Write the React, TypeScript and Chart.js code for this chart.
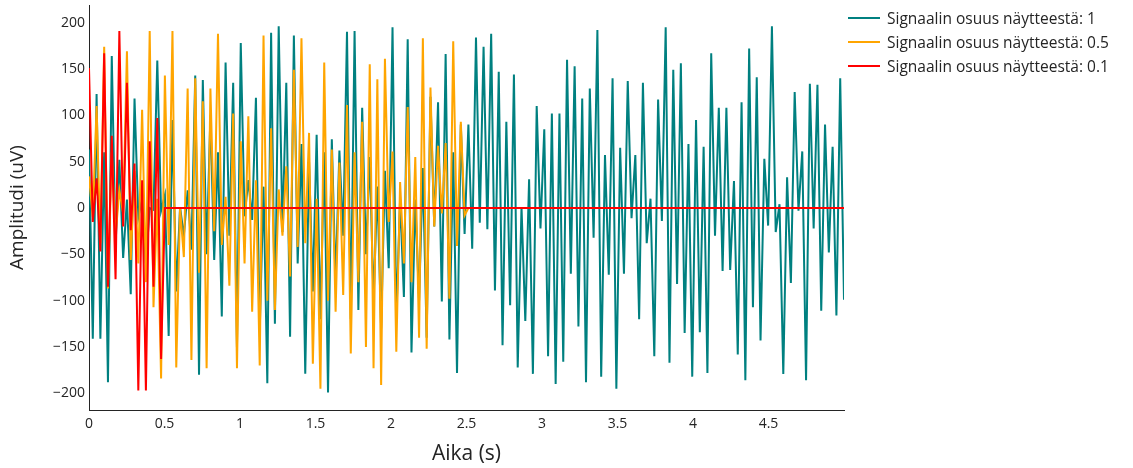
import React, { useEffect, useRef } from "react";
import { Chart, registerables } from "chart.js";

Chart.register(...registerables);

// Sampling grid: 200 samples spanning 0 … 5 s
const SAMPLE_COUNT = 200;
const DURATION_S = 5;

const xTickValues = [0, 0.5, 1, 1.5, 2, 2.5, 3, 3.5, 4, 4.5];
const yTickValues = [-200, -150, -100, -50, 0, 50, 100, 150, 200];

const seriesLabels = [
  "Signaalin osuus näytteestä: 1",
  "Signaalin osuus näytteestä: 0.5",
  "Signaalin osuus näytteestä: 0.1",
];
const seriesColors = ["#008080", "#FFA500", "#FF0000"];

// Signal share 1 (whole sample)
const share1Values = [
  63, -141, 123, -141, 60, -188, 164, -40, 52, -54,
  9, -93, 118, -10, 10, -60, 0, -2, 159, -3,
  14, -138, 95, -90, 1, -30, 19, -45, 143, -180,
  138, -50, 100, -56, 60, -117, 157, -30, 135, -150,
  178, -9, 30, -13, 119, -132, 23, -189, 189, -125,
  196, -26, 135, -139, 186, -60, 69, -179, 50, -90,
  79, -120, 60, -199, 74, -80, 62, -30, 190, -120,
  191, -110, 108, -50, 55, -100, 23, -130, 40, -65,
  195, -120, 10, -96, 182, -156, 9, -100, 43, -140,
  120, -20, 114, -101, 166, -142, 60, -178, 90, -28,
  90, -44, 184, -16, 174, -23, 188, -89, 147, -148,
  93, -105, 144, -172, 1, -122, 31, -179, 110, -22,
  85, -160, 102, -190, 102, -166, 160, -71, 153, -128,
  118, -188, 129, -32, 192, -182, 57, -72, 140, -195,
  65, -71, 137, -11, 57, -120, 135, -38, 10, -160,
  117, -14, 195, -167, 149, -82, 156, -135, 69, -182,
  95, -134, 66, -178, 167, -30, 108, -68, 108, -67,
  29, -158, 114, -186, 172, -107, 141, -143, 53, -19,
  196, -26, 4, -179, 33, -81, 125, -3, 61, -186,
  134, -22, 133, -111, 90, -48, 66, -116, 140, -99,
];

// Signal share 0.5 (first half carries signal, rest is zero)
const share05Values = [
  34, -10, 110, -38, 174, -87, 60, -30, 19, -6,
  169, -56, 40, -60, 106, -80, 191, -107, 10, -184,
  143, -40, 191, -172, 0, -53, 129, -164, 140, -70,
  115, -173, 129, -25, 188, -40, 12, -84, 102, -173,
  72, -60, 99, -112, 30, -170, 186, -100, 86, -110,
  20, -30, 45, -74, 149, -42, 183, -38, 81, -168,
  10, -195, 157, -100, 63, -112, 49, -94, 111, -157,
  60, -80, 93, -150, 155, -173, 139, -191, 161, -15,
  61, -155, 28, -60, 109, -80, 55, -140, 183, -152,
  130, -20, 67, -6, 70, -98, 180, -41, 93, -8,
  0, 0, 0, 0, 0, 0, 0, 0, 0, 0,
  0, 0, 0, 0, 0, 0, 0, 0, 0, 0,
  0, 0, 0, 0, 0, 0, 0, 0, 0, 0,
  0, 0, 0, 0, 0, 0, 0, 0, 0, 0,
  0, 0, 0, 0, 0, 0, 0, 0, 0, 0,
  0, 0, 0, 0, 0, 0, 0, 0, 0, 0,
  0, 0, 0, 0, 0, 0, 0, 0, 0, 0,
  0, 0, 0, 0, 0, 0, 0, 0, 0, 0,
  0, 0, 0, 0, 0, 0, 0, 0, 0, 0,
  0, 0, 0, 0, 0, 0, 0, 0, 0, 0,
];

// Signal share 0.1 (first tenth carries signal, rest is zero)
const share01Values = [
  151, -15, 32, -47, 167, -85, 78, -77, 191, -20,
  135, -24, 48, -197, 30, -197, 72, -85, 97, -163,
  0, 0, 0, 0, 0, 0, 0, 0, 0, 0,
  0, 0, 0, 0, 0, 0, 0, 0, 0, 0,
  0, 0, 0, 0, 0, 0, 0, 0, 0, 0,
  0, 0, 0, 0, 0, 0, 0, 0, 0, 0,
  0, 0, 0, 0, 0, 0, 0, 0, 0, 0,
  0, 0, 0, 0, 0, 0, 0, 0, 0, 0,
  0, 0, 0, 0, 0, 0, 0, 0, 0, 0,
  0, 0, 0, 0, 0, 0, 0, 0, 0, 0,
  0, 0, 0, 0, 0, 0, 0, 0, 0, 0,
  0, 0, 0, 0, 0, 0, 0, 0, 0, 0,
  0, 0, 0, 0, 0, 0, 0, 0, 0, 0,
  0, 0, 0, 0, 0, 0, 0, 0, 0, 0,
  0, 0, 0, 0, 0, 0, 0, 0, 0, 0,
  0, 0, 0, 0, 0, 0, 0, 0, 0, 0,
  0, 0, 0, 0, 0, 0, 0, 0, 0, 0,
  0, 0, 0, 0, 0, 0, 0, 0, 0, 0,
  0, 0, 0, 0, 0, 0, 0, 0, 0, 0,
  0, 0, 0, 0, 0, 0, 0, 0, 0, 0,
];

const seriesValues = [share1Values, share05Values, share01Values];

const FONT = '"Open Sans", "Noto Sans", sans-serif';
const TEXT_COLOR = "#242424";

function sampleTime(i: number): number {
  return (i * DURATION_S) / (SAMPLE_COUNT - 1);
}

function fmtY(v: number): string {
  return v < 0 ? "\u2212" + Math.abs(v) : String(v);
}

export default function App() {
  const canvasRef = useRef<HTMLCanvasElement | null>(null);

  useEffect(() => {
    if (!canvasRef.current) return;
    const datasets = seriesValues.map((vals, k) => ({
      label: seriesLabels[k],
      data: vals.map((v, i) => ({ x: sampleTime(i), y: v })),
      borderColor: seriesColors[k],
      backgroundColor: seriesColors[k],
      borderWidth: 2,
      pointRadius: 0,
      tension: 0,
      fill: false,
      order: 3 - k,
    }));

    const chart = new Chart(canvasRef.current, {
      type: "line",
      data: { datasets },
      options: {
        animation: false,
        responsive: false,
        maintainAspectRatio: false,
        layout: { padding: { top: 5, right: 289, left: 0, bottom: 0 } },
        plugins: {
          legend: { display: false },
          tooltip: { enabled: false },
        },
        scales: {
          x: {
            type: "linear",
            min: 0,
            max: DURATION_S,
            afterBuildTicks: (s: any) => {
              s.ticks = xTickValues.map((v) => ({ value: v }));
            },
            afterFit: (s: any) => {
              s.height = 58;
              s.paddingLeft = 0;
              s.paddingRight = 0;
            },
            ticks: {
              autoSkip: false,
              maxRotation: 0,
              padding: 6,
              color: TEXT_COLOR,
              font: { family: FONT, size: 14 },
              callback: (v: any) => String(v),
            },
            grid: {
              display: false,
              drawOnChartArea: false,
              drawTicks: false,
            },
            border: { display: true, color: TEXT_COLOR, width: 1 },
            title: {
              display: true,
              text: "Aika (s)",
              color: TEXT_COLOR,
              font: { family: FONT, size: 21 },
              padding: { top: 0, bottom: 1 },
            },
          },
          y: {
            type: "linear",
            min: -218,
            max: 219,
            afterBuildTicks: (s: any) => {
              s.ticks = yTickValues.map((v) => ({ value: v }));
            },
            afterFit: (s: any) => {
              s.width = 89;
              s.paddingTop = 0;
              s.paddingBottom = 0;
            },
            ticks: {
              autoSkip: false,
              padding: 4,
              color: TEXT_COLOR,
              font: { family: FONT, size: 14 },
              callback: (v: any) => fmtY(Number(v)),
            },
            grid: {
              display: false,
              drawOnChartArea: false,
              drawTicks: false,
            },
            border: { display: true, color: TEXT_COLOR, width: 1 },
            title: {
              display: true,
              text: "Amplitudi (uV)",
              color: TEXT_COLOR,
              font: { family: FONT, size: 19 },
              padding: { top: 6, bottom: 0 },
            },
          },
        },
      },
    } as any);

    return () => chart.destroy();
  }, []);

  return (
    <div
      style={{
        position: "fixed",
        left: 0,
        top: 0,
        width: 1133,
        height: 468,
        background: "#fff",
        fontFamily: FONT,
      }}
    >
      <canvas ref={canvasRef} width={1133} height={468} style={{ display: "block" }} />
      <div style={{ position: "absolute", left: 848, top: 6 }}>
        {seriesLabels.map((lab, k) => (
          <div
            key={k}
            style={{
              display: "flex",
              alignItems: "center",
              height: 24,
              fontSize: 15.5,
              color: TEXT_COLOR,
              whiteSpace: "nowrap",
            }}
          >
            <span
              style={{
                display: "inline-block",
                width: 32,
                height: 2,
                background: seriesColors[k],
                marginRight: 7,
              }}
            />
            <span>{lab}</span>
          </div>
        ))}
      </div>
    </div>
  );
}
